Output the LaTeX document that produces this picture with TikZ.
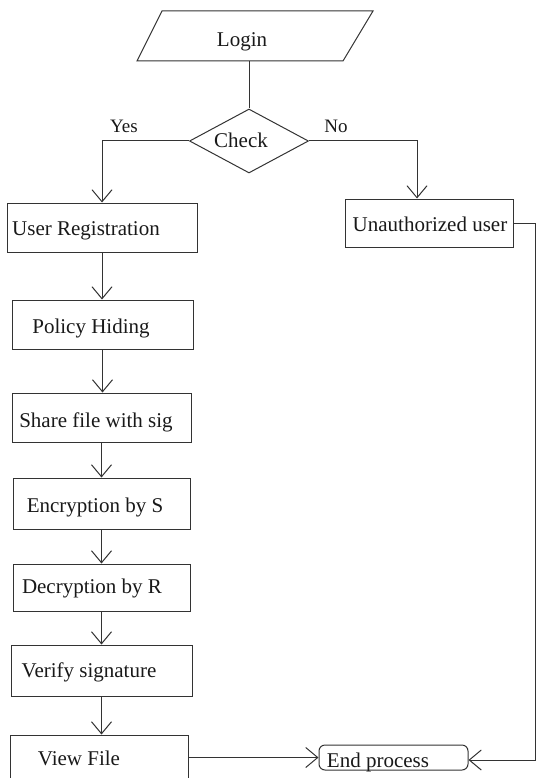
\documentclass[tikz,border=0pt]{standalone}
\usepackage{fontspec}
\setmainfont{Liberation Serif}
\usetikzlibrary{shapes.geometric,arrows.meta}

\begin{document}
\begin{tikzpicture}[x=1pt,y=-1pt,
  line/.style={line width=1pt,draw=black!80},
  box/.style={draw=black!80,line width=1pt,rectangle,inner sep=0pt},
  txt/.style={anchor=base,inner sep=0pt,font=\fontsize{21}{25}\selectfont,text=black!90},
  lbl/.style={anchor=base,inner sep=0pt,font=\fontsize{19}{23}\selectfont,text=black!90},
  flow/.style={line,-{Straight Barb[length=12pt,width=20pt,line width=1pt]}}
]
\useasboundingbox (0,0) rectangle (536,778);

% input: login parallelogram
\draw[line] (162,11) -- (373,11) -- (343,61) -- (137,61) -- cycle;
\node[txt] (login) at (242,47) {Login};
\coordinate (loginS) at (249,61);

% decision
\node[draw=black!80,line width=1pt,diamond,aspect=1.86,inner sep=0pt,
      minimum width=119pt,minimum height=64pt] (check) at (249,141) {};
\node[txt] (checkT) at (241,148) {Check};
\draw[line] (loginS) -- (check.north);

% boxes
\node[box,minimum width=190pt,minimum height=49pt] (ur) at (102,227.5) {};
\node[box,minimum width=168pt,minimum height=48pt] (uu) at (429,223) {};
\node[box,minimum width=181pt,minimum height=49pt] (ph) at (102.5,324.5) {};
\node[box,minimum width=179pt,minimum height=49pt] (sf) at (101.5,417.5) {};
\node[box,minimum width=177pt,minimum height=51pt] (es) at (101.5,503.5) {};
\node[box,minimum width=177pt,minimum height=47pt] (dr) at (101.5,587.5) {};
\node[box,minimum width=181pt,minimum height=51pt] (vs) at (101.5,670.5) {};
\node[box,minimum width=178pt,minimum height=55pt] (vf) at (99,762.5) {};
\node[box,rounded corners=6pt,minimum width=149pt,minimum height=25pt] (end) at (393.5,757.5) {};

% box texts
\node[txt] (urT) at (86,235) {User Registration};
\node[txt] (uuT) at (430,231) {Unauthorized user};
\node[txt] (phT) at (91,333) {Policy Hiding};
\node[txt] (sfT) at (96,427) {Share file with sig};
\node[txt] (esT) at (95,512) {Encryption by S};
\node[txt] (drT) at (92,593) {Decryption by R};
\node[txt] (vsT) at (89,677) {Verify signature};
\node[txt] (vfT) at (79,765) {View File};
\node[txt] (endT) at (378,767) {End process};

% branch labels
\node[lbl] (yes) at (124,133) {Yes};
\node[lbl] (no) at (336,133) {No};

% connectors
\draw[flow] (check.west) -| (ur.north);
\draw[flow] (check.east) -| ([xshift=-12pt]uu.north);
\draw[flow] (ur.south) -- (ph.north -| ur.south);
\draw[flow] (ph.south) -- (sf.north -| ph.south);
\draw[flow] (sf.south) -- (es.north);
\draw[flow] (es.south) -- (dr.north);
\draw[flow] (dr.south) -- (vs.north);
\draw[flow] (vs.south) -- (vf.north -| vs.south);
\draw[flow] (end.west -| vf.east) -- (end.west);
\coordinate (rc) at (535,760);
\draw[flow] (uu.east) -| (rc) -- (end.east |- rc);
\end{tikzpicture}
\end{document}
